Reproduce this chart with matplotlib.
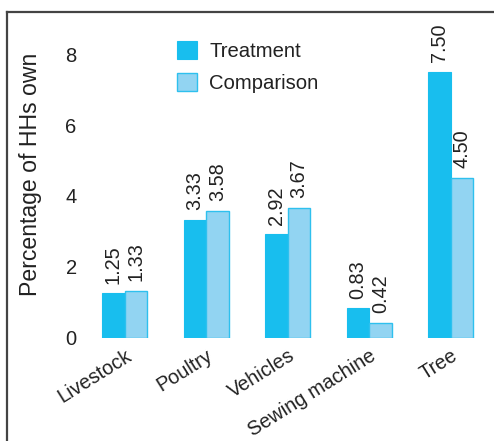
import matplotlib
matplotlib.use("Agg")
import matplotlib.pyplot as plt
import numpy as np
from matplotlib.lines import Line2D

plt.rcParams['font.family'] = ['Liberation Sans', 'DejaVu Sans']

categories = ["Livestock", "Poultry", "Vehicles", "Sewing machine", "Tree"]
treatment = [1.25, 3.33, 2.92, 0.83, 7.50]
comparison = [1.33, 3.58, 3.67, 0.42, 4.50]
yticks = [0, 2, 4, 6, 8]

c_treat = "#18BEEE"
c_comp = "#92D4F2"
c_edge = "#2EC0EE"
txt = "#222222"

fig = plt.figure(figsize=(4.94, 4.41), dpi=100)
ax = fig.add_axes([0.172, 0.234, 0.80, 0.682])

x = np.arange(len(categories))
w = 0.276
b1 = ax.bar(x - w/2, treatment, w, color=c_treat, edgecolor=c_treat, linewidth=0.8, label="Treatment")
b2 = ax.bar(x + w/2, comparison, w, color=c_comp, edgecolor=c_edge, linewidth=1.0, label="Comparison")

for bars, vals in ((b1, treatment), (b2, comparison)):
    for r, v in zip(bars, vals):
        ax.annotate(f"{v:.2f}", (r.get_x() + r.get_width()/2, r.get_height()),
                    xytext=(0, 7), textcoords="offset points", rotation=90,
                    ha="center", va="bottom", fontsize=14.3, color=txt)

ax.set_xlim(-0.487, 4.36)
ax.set_ylim(0, 8.48)
ax.set_yticks(yticks)
ax.set_yticklabels([str(t) for t in yticks], fontsize=14.5, color=txt)
ax.set_xticks(x)
ax.set_xticklabels(categories, rotation=32, ha="right", rotation_mode="anchor", fontsize=14.3, color=txt)
ax.tick_params(axis="both", length=0)
ax.tick_params(axis="y", pad=6)
ax.tick_params(axis="x", pad=6)
for s in ax.spines.values():
    s.set_visible(False)

fig.text(30/494, 1 - 174.5/441, "Percentage of HHs own", rotation=90,
         ha="center", va="center", fontsize=16.6, color=txt)

leg = ax.legend(loc="upper left", bbox_to_anchor=(177/494, 1 - 41/441),
                bbox_transform=fig.transFigure, frameon=False, fontsize=14.6,
                handlelength=1.0, handleheight=1.0, handletextpad=0.6,
                labelspacing=0.6, borderaxespad=0, borderpad=0)
for t in leg.get_texts():
    t.set_color(txt)

# frame lines (top and left)
fig.add_artist(Line2D([7/494, 1], [1 - 12/441, 1 - 12/441], transform=fig.transFigure,
                      color="#444444", linewidth=1.6))
fig.add_artist(Line2D([7/494, 7/494], [0, 1 - 12/441], transform=fig.transFigure,
                      color="#444444", linewidth=1.6))

fig.savefig("out.png", dpi=100)
